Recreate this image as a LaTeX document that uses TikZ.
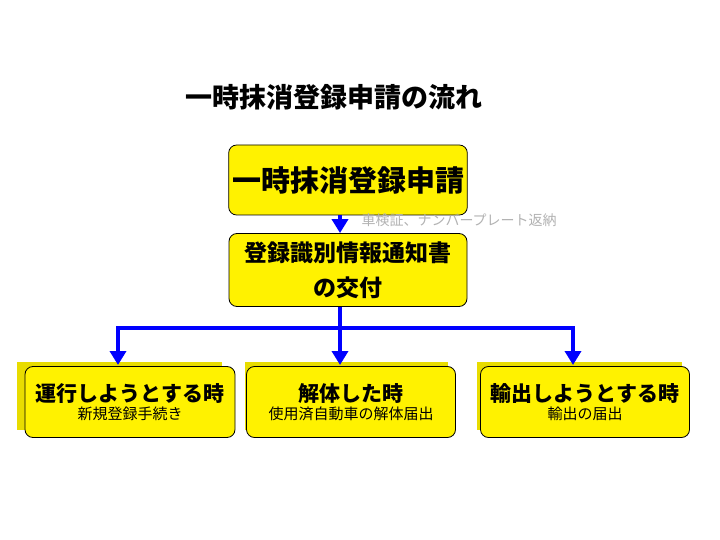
\documentclass[tikz,border=0pt]{standalone}
\usepackage{fontspec}
\newfontfamily\jp{Noto Sans CJK JP}
\usepackage{tikz}
\usetikzlibrary{arrows.meta}

\begin{document}
\begin{tikzpicture}[x=1pt, y=-1pt,
  box/.style={draw, fill=yellow, rounded corners=8pt, line width=0.8pt, font=\jp\bfseries},
  shade/.style={fill=yellow!80!olive},
  flow/.style={draw=blue, line width=4pt, -{Triangle[length=14pt,width=16pt]}}]
    \useasboundingbox (0,0) rectangle (720,540);
    \node[font=\jp\bfseries\fontsize{27}{30}\selectfont](title) at (334,97){一時抹消登録申請の流れ};
    \node[box, minimum width=238pt, minimum height=70pt, font=\jp\bfseries\fontsize{29}{32}\selectfont](apply) at (348,180){一時抹消登録申請};
    \node[box, minimum width=238pt, minimum height=73pt, align=center, font=\jp\bfseries\fontsize{23}{35}\selectfont](notice) at (348,270){登録識別情報通知書\\の交付};
    \node[text=gray!60, font=\jp\fontsize{14}{16}\selectfont, anchor=west](ret) at (358,220){車検証、ナンバープレート返納};
    % shadows behind the lower boxes
    \fill[shade] (17,362) rectangle (222,430);
    \fill[shade] (245,362) rectangle (448,430);
    \fill[shade] (477,362) rectangle (682,430);
    \node[box, minimum width=210pt, minimum height=71pt, align=center](run) at (130,402){{\fontsize{21}{24}\selectfont 運行しようとする時}\\[2pt]{\mdseries\fontsize{15}{17}\selectfont 新規登録手続き}};
    \node[box, minimum width=209pt, minimum height=71pt, align=center](scrap) at (351,402){{\fontsize{21}{24}\selectfont 解体した時}\\[2pt]{\mdseries\fontsize{15}{17}\selectfont 使用済自動車の解体届出}};
    \node[box, minimum width=209pt, minimum height=71pt, align=center](export) at (585,402){{\fontsize{21}{24}\selectfont 輸出しようとする時}\\[2pt]{\mdseries\fontsize{15}{17}\selectfont 輸出の届出}};
    \coordinate (fork) at (340,328);
    \draw[flow] (apply.south -| fork) -- (notice.north -| fork);
    \draw[draw=blue, line width=4pt] (notice.south -| fork) -- (fork);
    \draw[draw=blue, line width=4pt] (118,328) -- (573,328);
    \draw[flow] (118,326) -- (118,365);
    \draw[flow] (fork) -- (340,365);
    \draw[flow] (573,326) -- (573,365);
\end{tikzpicture}
\end{document}
